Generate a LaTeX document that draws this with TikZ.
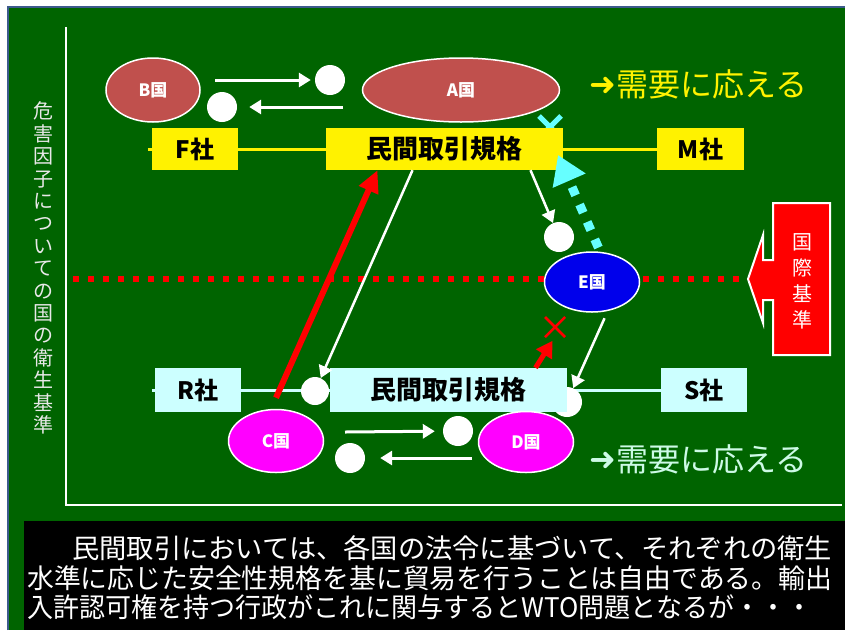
\documentclass[tikz,border=0pt]{standalone}
\usepackage{fontspec}
\setmainfont{Noto Sans CJK JP}
\newfontfamily\arrowfont{DejaVu Sans}
\usetikzlibrary{arrows.meta,shapes.geometric,calc}
\pgfdeclarelayer{bg}
\pgfsetlayers{bg,main}
\definecolor{bggreen}{RGB}{0,100,0}
\definecolor{brick}{RGB}{192,80,77}
\definecolor{ltcyan}{RGB}{204,255,255}
\definecolor{aqua}{RGB}{102,255,255}
\definecolor{pale}{RGB}{205,250,230}
\definecolor{frameblue}{RGB}{60,90,140}
\definecolor{lbl}{RGB}{232,232,232}
\definecolor{ecol}{RGB}{0,0,235}
\definecolor{mag}{RGB}{255,0,255}
\newcommand{\heavyarrow}{{\arrowfont\bfseries\raisebox{1pt}{➜}}}
\begin{document}
\begin{tikzpicture}[x=1pt,y=-1pt,
  box/.style={rectangle, minimum width=86pt, minimum height=42pt, inner sep=0pt, font=\fontsize{24}{24}\selectfont\bfseries},
  ybox/.style={box, fill=yellow},
  cbox/.style={box, fill=ltcyan, minimum height=44pt},
  country/.style={ellipse, draw=white, line width=1.5pt, inner sep=0pt, text=white, font=\fontsize{17}{17}\selectfont\bfseries},
  wdot/.style={circle, fill=white, minimum size=30pt, inner sep=0pt},
  warrow/.style={draw=white, line width=3pt, -{Triangle[length=12pt,width=14pt]}},
  demand/.style={anchor=west, inner sep=0pt, font=\fontsize{32}{32}\selectfont},
  para/.style={anchor=west, inner sep=0pt, text=white, font=\fontsize{27}{27}\selectfont}]
\useasboundingbox (0,0) rectangle (845,630);
\begin{pgfonlayer}{bg}
\fill[white] (0,0) rectangle (845,630);
\fill[bggreen] (8,7) rectangle (845,630);
\draw[frameblue, line width=2pt] (8,630) -- (8,7) -- (845,7);
\fill[black] (24,521) rectangle (845,630);
\draw[white, line width=2.5pt] (66,27) -- (66,505) -- (842,505);
\end{pgfonlayer}

% axis label
\node[text=lbl, align=center, inner sep=0pt, font=\fontsize{20}{22.4}\selectfont] (ylabel) at (43,268)
  {危\\害\\因\\子\\に\\つ\\い\\て\\の\\国\\の\\衛\\生\\基\\準};

% top countries
\node[country, fill=brick, minimum width=94pt, minimum height=64pt] (B) at (153,90) {B国};
\node[country, fill=brick, minimum width=197pt, minimum height=64pt] (A) at (461,90) {A国};
\node[wdot] (d1) at (330,80) {};
\node[wdot] (d2) at (222,107) {};
\coordinate (a1s) at (215,80);
\coordinate (a2s) at (343,107);
\draw[warrow, shorten >=4pt] (a1s) -- (d1);
\draw[warrow, shorten >=12pt] (a2s) -- (d2);
\node[demand, text=yellow] (dem1) at (589,84) {\heavyarrow 需要に応える};

% top row
\node[ybox] (F) at (195,149) {F社};
\node[ybox, minimum width=237pt, font=\fontsize{26}{26}\selectfont\bfseries] (T) at (444.5,149) {民間取引規格};
\node[ybox, minimum width=87pt] (M) at (700.5,149) {M社};

% E country
\node[wdot] (dE) at (559,237) {};
\node[country, fill=ecol, minimum width=95pt, minimum height=60pt] (E) at (592,282) {E国};

% international standard
\fill[red, draw=white, line width=2pt] (748,279) -- (763,235) -- (763,260) -- (773,260) -- (773,203) -- (830,203) -- (830,355) -- (773,355) -- (773,300) -- (763,300) -- (763,323) -- cycle;
\coordinate (isotip) at (748,279);
\node[text=white, align=center, inner sep=0pt, font=\fontsize{20}{26}\selectfont] (iso) at (802,281) {国\\際\\基\\準};

% bottom row
\node[wdot, minimum size=28pt] (dR) at (315,391) {};
\node[wdot] (dS) at (567,402) {};
\node[cbox] (R) at (198,390) {R社};
\node[cbox, minimum width=237pt, font=\fontsize{26}{26}\selectfont\bfseries] (Bt) at (448.5,390) {民間取引規格};
\node[cbox] (S) at (704,390) {S社};

% bottom countries
\node[country, fill=mag, minimum width=95pt, minimum height=63pt] (C) at (276,441) {C国};
\node[country, fill=mag, minimum width=95pt, minimum height=61pt] (D) at (526,442) {D国};
\node[wdot] (d3) at (458,431) {};
\node[wdot] (d4) at (350,458) {};
\coordinate (a3s) at (345,432);
\coordinate (a4s) at (472,458);
\draw[warrow, shorten >=8pt] (a3s) -- (d3);
\draw[warrow, shorten >=15pt] (a4s) -- (d4);
\node[demand, text=pale] (dem2) at (589,459) {\heavyarrow 需要に応える};

% connectors on background
\begin{pgfonlayer}{bg}
\draw[red, line width=5.5pt, dash pattern=on 5.5pt off 9.5pt] (73,279) -- (isotip);
\draw[yellow, line width=3pt] ([xshift=-4pt]F.west) -- (M.west);
\draw[ltcyan, line width=3pt] ([xshift=-3pt]R.west) -- (S.west);
\draw[aqua, line width=5pt] (539,116) -- (561,138) (561,116) -- (539,138);
\end{pgfonlayer}

% flows
\draw[warrow, line width=2.5pt] ([xshift=-32pt]T.south) -- (dR);
\draw[warrow, line width=2.5pt] ([xshift=86pt]T.south) -- (dE);
\draw[warrow, line width=2.5pt, shorten <=6pt] ([xshift=15pt]E.south) -- (dS);
\draw[red, line width=6pt, -{Triangle[length=22pt,width=20pt]}] ([yshift=11pt]C.north) -- ([xshift=-67pt]T.south);
\draw[red, line width=5pt, -{Triangle[length=16pt,width=18pt]}] ([xshift=87pt]Bt.north) -- ++(17,-27) coordinate (xend);
\draw[red, line width=2.5pt] (545,317) -- (565,337) (565,317) -- (545,337);
\draw[aqua, line width=9pt, dash pattern=on 9pt off 10pt, shorten <=4pt, -{Triangle[length=28pt,width=34pt]}] ([xshift=8pt]E.north) -- (558,155);

% paragraph
\node[para] (p1) at (72,548) {\resizebox{760pt}{\height}{民間取引においては、各国の法令に基づいて、それぞれの衛生}};
\node[para] (p2) at (27,578) {\resizebox{805pt}{\height}{水準に応じた安全性規格を基に貿易を行うことは自由である。輸出}};
\node[para] (p3) at (27,607) {\resizebox{785pt}{\height}{入許認可権を持つ行政がこれに関与するとWTO問題となるが・・・}};
\end{tikzpicture}
\end{document}
